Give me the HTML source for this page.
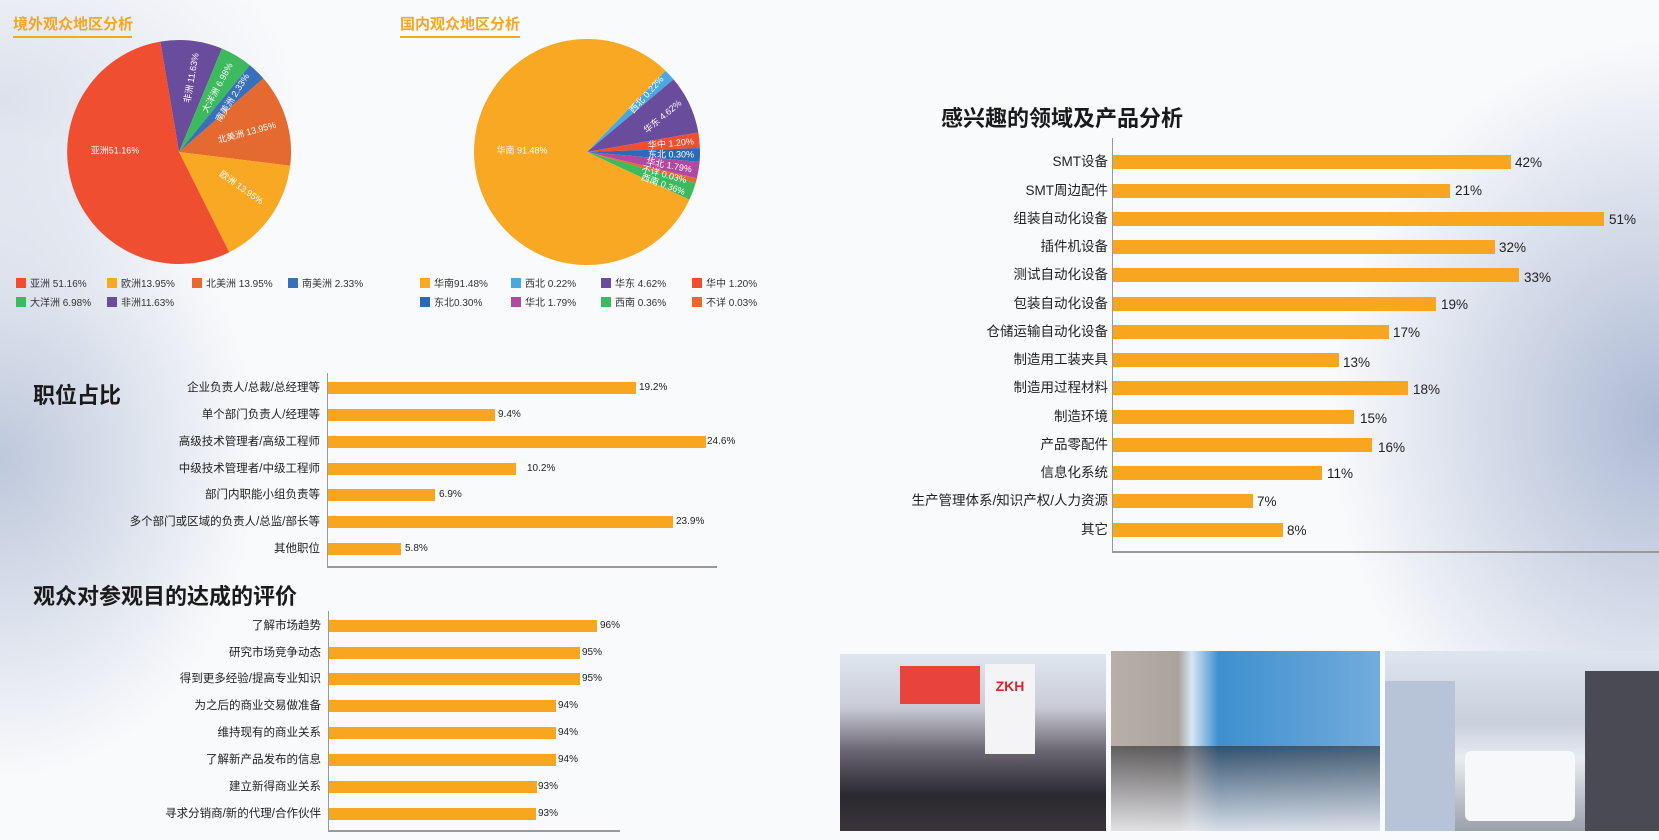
<!DOCTYPE html>
<html><head><meta charset="utf-8">
<style>
*{margin:0;padding:0;box-sizing:border-box}
body{width:1659px;height:840px;position:relative;overflow:hidden;font-family:"Liberation Sans","Noto Sans CJK SC",sans-serif;color:#222;
background:
radial-gradient(ellipse 260px 320px at 0px 460px, rgba(175,188,212,0.8), rgba(255,255,255,0) 100%),
radial-gradient(ellipse 330px 380px at 1659px 420px, rgba(160,175,205,0.85), rgba(255,255,255,0) 100%),
radial-gradient(ellipse 300px 200px at 0px 100px, rgba(200,208,225,0.6), rgba(255,255,255,0) 100%),
#f9fafc;}
.a{position:absolute}
.t1{position:absolute;font-size:15px;font-weight:bold;color:#f5a623;}
.ul{position:absolute;height:1.5px;background:#f5a623}
.big{position:absolute;font-size:22px;font-weight:bold;color:#1a1a1a;white-space:nowrap}
.bar{position:absolute;background:#f8a620}
.lb{position:absolute;text-align:right;white-space:nowrap;color:#222}
.v{position:absolute;white-space:nowrap;color:#222}
.s .lb,.s .v{line-height:12px}
.r .lb,.r .v{line-height:14px}
.lg{position:absolute;font-size:10px;color:#333;white-space:nowrap;line-height:12px}
.lg i{display:inline-block;width:10px;height:10px;vertical-align:-1px;margin-right:4px}
.ax{position:absolute;background:#999}
</style></head><body>

<div class="t1" style="left:13px;top:13px">境外观众地区分析</div>
<div class="ul" style="left:13px;top:36px;width:119px"></div>
<div class="t1" style="left:400px;top:13px">国内观众地区分析</div>
<div class="ul" style="left:400px;top:36px;width:120px"></div>

<svg class="a" style="left:0;top:0" width="780" height="270">
<g stroke="none">
<path d="M179 152 L160.3 41.6 A112 112 0 0 1 221.9 48.5 Z" fill="#6a4c9c"/>
<path d="M179 152 L221.9 48.5 A112 112 0 0 1 249.8 65.2 Z" fill="#3dba5e"/>
<path d="M179 152 L249.8 65.2 A112 112 0 0 1 263.4 78.4 Z" fill="#3a6fba"/>
<path d="M179 152 L263.4 78.4 A112 112 0 0 1 290.2 165.7 Z" fill="#e46a30"/>
<path d="M179 152 L290.2 165.7 A112 112 0 0 1 229.2 252.2 Z" fill="#f8a822"/>
<path d="M179 152 L229.2 252.2 A112 112 0 1 1 160.3 41.6 Z" fill="#f04e30"/>

<path d="M587 152 L665.5 70.7 A113 113 0 0 1 673.6 79.4 Z" fill="#4aa8e0"/>
<path d="M587 152 L673.6 79.4 A113 113 0 0 1 698.3 132.4 Z" fill="#6a4c9c"/>
<path d="M587 152 L698.3 132.4 A113 113 0 0 1 699.9 148.1 Z" fill="#f04e30"/>
<path d="M587 152 L699.9 148.1 A113 113 0 0 1 699.6 161.9 Z" fill="#2a6ab8"/>
<path d="M587 152 L699.6 161.9 A113 113 0 0 1 696.9 178.4 Z" fill="#b04aa0"/>
<path d="M587 152 L696.9 178.4 A113 113 0 0 1 695.6 183.1 Z" fill="#e46a30"/>
<path d="M587 152 L695.6 183.1 A113 113 0 0 1 689.4 199.8 Z" fill="#3dba5e"/>
<path d="M587 152 L689.4 199.8 A113 113 0 1 1 665.5 70.7 Z" fill="#f8a822"/>
</g>
<g fill="#fff" font-size="9" font-family="Liberation Sans,Noto Sans CJK SC,sans-serif" text-anchor="middle" dominant-baseline="middle">
<text x="115" y="151">亚洲51.16%</text>
<text x="192" y="78" transform="rotate(-80 192 78)">非洲 11.63%</text>
<text x="218" y="88" transform="rotate(-62 218 88)">大洋洲 6.98%</text>
<text x="233" y="98" transform="rotate(-58 233 98)">南美洲 2.33%</text>
<text x="247" y="133" transform="rotate(-15 247 133)">北美洲 13.95%</text>
<text x="241" y="188" transform="rotate(35 241 188)">欧洲 13.95%</text>
<text x="522" y="151">华南 91.48%</text>
<text x="647" y="95" transform="rotate(-48 647 95)">西北 0.22%</text>
<text x="663" y="117" transform="rotate(-40 663 117)">华东 4.62%</text>
<text x="671" y="144" transform="rotate(-5 671 144)">华中 1.20%</text>
<text x="671" y="155">东北 0.30%</text>
<text x="669" y="166" transform="rotate(10 669 166)">华北 1.79%</text>
<text x="664" y="175" transform="rotate(15 664 175)">不详 0.03%</text>
<text x="663" y="185" transform="rotate(20 663 185)">西南 0.36%</text>
</g>
</svg>

<div class="lg" style="left:16px;top:278px"><i style="background:#f04e30"></i>亚洲 51.16%</div>
<div class="lg" style="left:107px;top:278px"><i style="background:#f8a822"></i>欧洲13.95%</div>
<div class="lg" style="left:192px;top:278px"><i style="background:#e46a30"></i>北美洲 13.95%</div>
<div class="lg" style="left:288px;top:278px"><i style="background:#3a6fba"></i>南美洲 2.33%</div>
<div class="lg" style="left:16px;top:297px"><i style="background:#3dba5e"></i>大洋洲 6.98%</div>
<div class="lg" style="left:107px;top:297px"><i style="background:#6a4c9c"></i>非洲11.63%</div>

<div class="lg" style="left:420px;top:278px"><i style="background:#f8a822"></i>华南91.48%</div>
<div class="lg" style="left:511px;top:278px"><i style="background:#4aa8e0"></i>西北 0.22%</div>
<div class="lg" style="left:601px;top:278px"><i style="background:#6a4c9c"></i>华东 4.62%</div>
<div class="lg" style="left:692px;top:278px"><i style="background:#f04e30"></i>华中 1.20%</div>
<div class="lg" style="left:420px;top:297px"><i style="background:#2a6ab8"></i>东北0.30%</div>
<div class="lg" style="left:511px;top:297px"><i style="background:#b04aa0"></i>华北 1.79%</div>
<div class="lg" style="left:601px;top:297px"><i style="background:#3dba5e"></i>西南 0.36%</div>
<div class="lg" style="left:692px;top:297px"><i style="background:#e46a30"></i>不详 0.03%</div>

<!-- 职位占比 -->
<div class="big" style="left:33px;top:378px">职位占比</div>
<div class="ax" style="left:327px;top:373px;width:1px;height:195px"></div>
<div class="ax" style="left:327px;top:566px;width:390px;height:1.5px"></div>
<div class="s" style="font-size:11.5px">
<div class="lb" style="right:1339px;top:382px">企业负责人/总裁/总经理等</div><div class="bar" style="left:328px;top:382px;width:308px;height:12px"></div><div class="v" style="left:639px;top:382px;font-size:10px">19.2%</div>
<div class="lb" style="right:1339px;top:409px">单个部门负责人/经理等</div><div class="bar" style="left:328px;top:409px;width:167px;height:12px"></div><div class="v" style="left:498px;top:409px;font-size:10px">9.4%</div>
<div class="lb" style="right:1339px;top:436px">高级技术管理者/高级工程师</div><div class="bar" style="left:328px;top:436px;width:378px;height:12px"></div><div class="v" style="left:707px;top:436px;font-size:10px">24.6%</div>
<div class="lb" style="right:1339px;top:463px">中级技术管理者/中级工程师</div><div class="bar" style="left:328px;top:463px;width:188px;height:12px"></div><div class="v" style="left:527px;top:463px;font-size:10px">10.2%</div>
<div class="lb" style="right:1339px;top:489px">部门内职能小组负责等</div><div class="bar" style="left:328px;top:489px;width:107px;height:12px"></div><div class="v" style="left:439px;top:489px;font-size:10px">6.9%</div>
<div class="lb" style="right:1339px;top:516px">多个部门或区域的负责人/总监/部长等</div><div class="bar" style="left:328px;top:516px;width:345px;height:12px"></div><div class="v" style="left:676px;top:516px;font-size:10px">23.9%</div>
<div class="lb" style="right:1339px;top:543px">其他职位</div><div class="bar" style="left:328px;top:543px;width:73px;height:12px"></div><div class="v" style="left:405px;top:543px;font-size:10px">5.8%</div>
</div>

<!-- 评价 -->
<div class="big" style="left:33px;top:579px">观众对参观目的达成的评价</div>
<div class="ax" style="left:328px;top:611px;width:1px;height:221px"></div>
<div class="ax" style="left:328px;top:830px;width:292px;height:1.5px"></div>
<div class="s" style="font-size:11.5px">
<div class="lb" style="right:1338px;top:620px">了解市场趋势</div><div class="bar" style="left:329px;top:620px;width:268px;height:12px"></div><div class="v" style="left:600px;top:620px;font-size:10px">96%</div>
<div class="lb" style="right:1338px;top:647px">研究市场竞争动态</div><div class="bar" style="left:329px;top:647px;width:251px;height:12px"></div><div class="v" style="left:582px;top:647px;font-size:10px">95%</div>
<div class="lb" style="right:1338px;top:673px">得到更多经验/提高专业知识</div><div class="bar" style="left:329px;top:673px;width:251px;height:12px"></div><div class="v" style="left:582px;top:673px;font-size:10px">95%</div>
<div class="lb" style="right:1338px;top:700px">为之后的商业交易做准备</div><div class="bar" style="left:329px;top:700px;width:227px;height:12px"></div><div class="v" style="left:558px;top:700px;font-size:10px">94%</div>
<div class="lb" style="right:1338px;top:727px">维持现有的商业关系</div><div class="bar" style="left:329px;top:727px;width:227px;height:12px"></div><div class="v" style="left:558px;top:727px;font-size:10px">94%</div>
<div class="lb" style="right:1338px;top:754px">了解新产品发布的信息</div><div class="bar" style="left:329px;top:754px;width:227px;height:12px"></div><div class="v" style="left:558px;top:754px;font-size:10px">94%</div>
<div class="lb" style="right:1338px;top:781px">建立新得商业关系</div><div class="bar" style="left:329px;top:781px;width:208px;height:12px"></div><div class="v" style="left:538px;top:781px;font-size:10px">93%</div>
<div class="lb" style="right:1338px;top:808px">寻求分销商/新的代理/合作伙伴</div><div class="bar" style="left:329px;top:808px;width:207px;height:12px"></div><div class="v" style="left:538px;top:808px;font-size:10px">93%</div>
</div>

<!-- 感兴趣 -->
<div class="big" style="left:941px;top:101px">感兴趣的领域及产品分析</div>
<div class="ax" style="left:1112px;top:138px;width:1px;height:415px"></div>
<div class="ax" style="left:1112px;top:551px;width:547px;height:1.5px"></div>
<div class="r" style="font-size:13.5px">
<div class="lb" style="right:551px;top:155px">SMT设备</div><div class="bar" style="left:1113px;top:155px;width:398px;height:14px"></div><div class="v" style="left:1515px;top:156px">42%</div>
<div class="lb" style="right:551px;top:184px">SMT周边配件</div><div class="bar" style="left:1113px;top:184px;width:337px;height:14px"></div><div class="v" style="left:1455px;top:184px">21%</div>
<div class="lb" style="right:551px;top:212px">组装自动化设备</div><div class="bar" style="left:1113px;top:212px;width:491px;height:14px"></div><div class="v" style="left:1609px;top:213px">51%</div>
<div class="lb" style="right:551px;top:240px">插件机设备</div><div class="bar" style="left:1113px;top:240px;width:382px;height:14px"></div><div class="v" style="left:1499px;top:241px">32%</div>
<div class="lb" style="right:551px;top:268px">测试自动化设备</div><div class="bar" style="left:1113px;top:268px;width:406px;height:14px"></div><div class="v" style="left:1524px;top:271px">33%</div>
<div class="lb" style="right:551px;top:297px">包装自动化设备</div><div class="bar" style="left:1113px;top:297px;width:323px;height:14px"></div><div class="v" style="left:1441px;top:298px">19%</div>
<div class="lb" style="right:551px;top:325px">仓储运输自动化设备</div><div class="bar" style="left:1113px;top:325px;width:276px;height:14px"></div><div class="v" style="left:1393px;top:326px">17%</div>
<div class="lb" style="right:551px;top:353px">制造用工装夹具</div><div class="bar" style="left:1113px;top:353px;width:226px;height:14px"></div><div class="v" style="left:1343px;top:356px">13%</div>
<div class="lb" style="right:551px;top:381px">制造用过程材料</div><div class="bar" style="left:1113px;top:381px;width:295px;height:14px"></div><div class="v" style="left:1413px;top:383px">18%</div>
<div class="lb" style="right:551px;top:410px">制造环境</div><div class="bar" style="left:1113px;top:410px;width:241px;height:14px"></div><div class="v" style="left:1360px;top:412px">15%</div>
<div class="lb" style="right:551px;top:438px">产品零配件</div><div class="bar" style="left:1113px;top:438px;width:259px;height:14px"></div><div class="v" style="left:1378px;top:441px">16%</div>
<div class="lb" style="right:551px;top:466px">信息化系统</div><div class="bar" style="left:1113px;top:466px;width:209px;height:14px"></div><div class="v" style="left:1327px;top:467px">11%</div>
<div class="lb" style="right:551px;top:494px">生产管理体系/知识产权/人力资源</div><div class="bar" style="left:1113px;top:494px;width:140px;height:14px"></div><div class="v" style="left:1257px;top:495px">7%</div>
<div class="lb" style="right:551px;top:523px">其它</div><div class="bar" style="left:1113px;top:523px;width:170px;height:14px"></div><div class="v" style="left:1287px;top:524px">8%</div>
</div>

<!-- photos -->
<div class="a" style="left:840px;top:654px;width:266px;height:177px;background:linear-gradient(180deg,#dfe6f0 0%,#c9ccd6 30%,#6a6570 55%,#2a2830 80%,#3a3538 100%)">
 <div class="a" style="left:60px;top:12px;width:80px;height:38px;background:#e8443c"></div>
 <div class="a" style="left:145px;top:10px;width:50px;height:90px;background:#f4f4f6;color:#d8262c;font-weight:bold;font-size:14px;text-align:center;padding-top:14px">ZKH</div>
</div>
<div class="a" style="left:1111px;top:651px;width:269px;height:180px;background:linear-gradient(90deg,#b8b0a8 0%,#a9a39c 25%,#d7e6f4 30%,#3e8fcf 40%,#72acdc 100%)">
 <div class="a" style="left:0;top:95px;width:269px;height:85px;background:linear-gradient(180deg,rgba(40,40,45,0.6),rgba(230,230,235,0.9))"></div>
</div>
<div class="a" style="left:1385px;top:651px;width:274px;height:180px;background:linear-gradient(180deg,#dde5ef 0%,#c8d0dc 40%,#e8ecf2 60%,#9aa0aa 100%)">
 <div class="a" style="left:80px;top:100px;width:110px;height:70px;background:#f7f8fa;border-radius:6px"></div>
 <div class="a" style="left:0;top:30px;width:70px;height:150px;background:#b7c4d8"></div>
 <div class="a" style="left:200px;top:20px;width:74px;height:160px;background:#4a4a52"></div>
</div>
</body></html>
